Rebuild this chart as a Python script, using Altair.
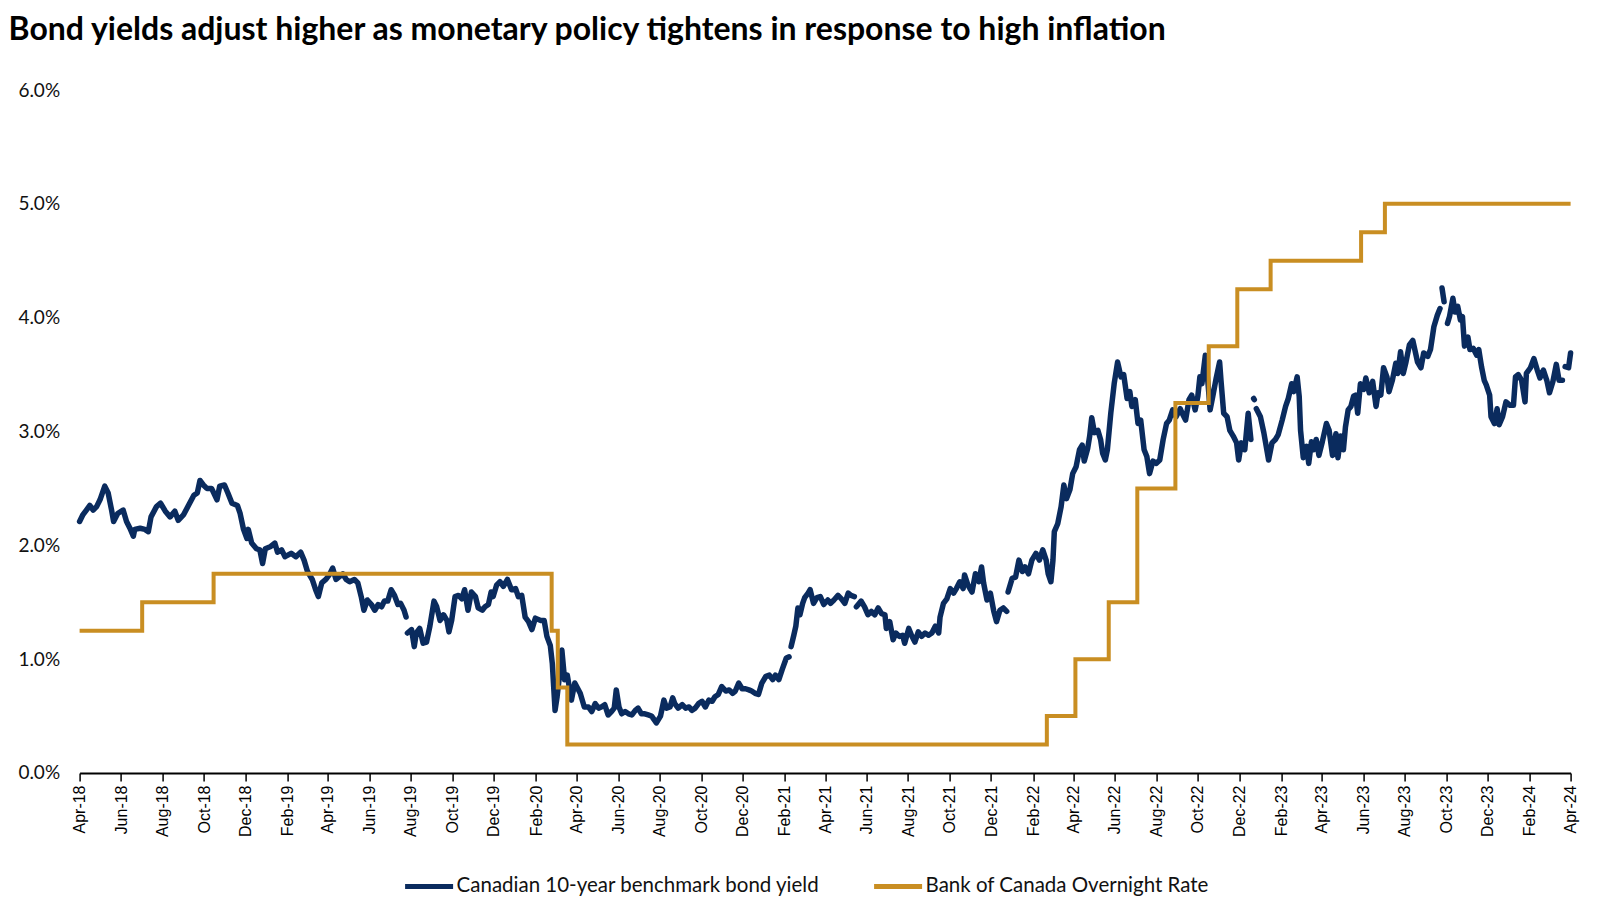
import altair as alt
import pandas as pd

TITLE = "Bond yields adjust higher as monetary policy tightens in response to high inflation"
SERIES = ["Canadian 10-year benchmark bond yield", "Bank of Canada Overnight Rate"]
COLORS = ["#0A2B5E", "#C98E22"]
GAP = None

# ---- Canadian 10-year benchmark bond yield (%); None = break in the line
d2018 = ["04-10", "04-15", "04-20", "04-25", "04-30", "05-05", "05-10", "05-17", "05-22", "05-27", "05-30",
         "06-05", "06-13", "06-18", "06-23", "06-28", "06-30", "07-08", "07-15", "07-20", "07-24",
         "08-01", "08-07", "08-14", "08-21", "08-28", "09-02", "09-10", "09-17", "09-25", "09-30",
         "10-04", "10-09", "10-14", "10-21", "10-29", "11-02", "11-09", "11-14", "11-20", "11-28",
         "12-02", "12-07", "12-12", "12-14", "12-19", "12-26", "12-31"]
v2018 = [2.21, 2.27, 2.31, 2.35, 2.31, 2.34, 2.40, 2.52, 2.46, 2.31, 2.21,
         2.28, 2.31, 2.21, 2.15, 2.08, 2.14, 2.15, 2.14, 2.12, 2.25,
         2.34, 2.37, 2.30, 2.25, 2.30, 2.22, 2.27, 2.35, 2.44, 2.46,
         2.57, 2.53, 2.50, 2.50, 2.40, 2.52, 2.53, 2.46, 2.37, 2.35,
         2.28, 2.14, 2.06, 2.14, 2.02, 1.97, 1.96]

d2019 = ["01-04", "01-08", "01-16", "01-22", "01-26", "02-01", "02-06", "02-15", "02-22",
         "03-01", "03-06", "03-11", "03-14", "03-18", "03-23", "03-27",
         "04-01", "04-07", "04-13", "04-17", "04-22", "04-27",
         "05-02", "05-07", "05-12", "05-19", "05-24", "05-29",
         "06-02", "06-07", "06-13", "06-18", "06-23", "06-28",
         "07-02", "07-07", "07-12", "07-17", "07-22", "07-26", "07-31",
         "08-03", GAP, "08-05", "08-11", "08-15", "08-18", "08-23", "08-28",
         "09-02", "09-07", "09-13", "09-17", "09-22", "09-27",
         "10-02", "10-05", "10-09", "10-14", "10-19", "10-24", "10-28",
         "11-02", "11-07", "11-13", "11-17", "11-23", "11-27",
         "12-02", "12-06", "12-09", "12-14", "12-19", "12-24", "12-30"]
v2019 = [1.84, 1.97, 1.99, 2.02, 1.94, 1.96, 1.90, 1.93, 1.90,
         1.94, 1.87, 1.77, 1.74, 1.70, 1.61, 1.55,
         1.67, 1.70, 1.75, 1.80, 1.70, 1.725,
         1.75, 1.70, 1.68, 1.70, 1.67, 1.55,
         1.43, 1.52, 1.48, 1.43, 1.48, 1.46,
         1.51, 1.51, 1.61, 1.56, 1.48, 1.49, 1.43,
         1.37, GAP, 1.23, 1.26, 1.11, 1.23, 1.27, 1.14,
         1.15, 1.29, 1.51, 1.46, 1.34, 1.39,
         1.34, 1.24, 1.34, 1.55, 1.56, 1.53, 1.61,
         1.43, 1.59, 1.55, 1.45, 1.43, 1.46,
         1.48, 1.59, 1.55, 1.65, 1.68, 1.64, 1.70]

d2020 = ["01-05", "01-11", "01-15", "01-20", "01-25", "01-30",
         "02-04", "02-09", "02-17", "02-22", "02-26",
         "03-02", "03-05", "03-09", "03-12", "03-16", "03-19", "03-23", "03-27",
         "04-02", "04-07", "04-15", "04-21", "04-27",
         "05-02", "05-07", "05-12", "05-16", "05-21", "05-26", "05-31",
         "06-04", "06-07", "06-11", "06-15", "06-20", "06-25", "06-30",
         "07-05", "07-09", "07-14", "07-19", "07-24", "07-29",
         "08-05", "08-11", "08-16", "08-20", "08-25", "08-29",
         "09-01", "09-06", "09-12", "09-17", "09-22", "09-26",
         "10-01", "10-06", "10-11", "10-16", "10-21", "10-26", "10-30",
         "11-04", "11-09", "11-15", "11-20", "11-25", "11-29",
         "12-04", "12-09", "12-14", "12-19", "12-23", "12-28"]
v2020 = [1.61, 1.62, 1.55, 1.56, 1.37, 1.33,
         1.26, 1.36, 1.34, 1.34, 1.20,
         1.12, 0.96, 0.55, 0.67, 0.88, 1.08, 0.82, 0.86,
         0.64, 0.79, 0.70, 0.58, 0.58,
         0.54, 0.61, 0.57, 0.58, 0.60, 0.51, 0.54,
         0.57, 0.73, 0.58, 0.52, 0.54, 0.52, 0.51,
         0.55, 0.57, 0.52, 0.52, 0.51, 0.50,
         0.44, 0.50, 0.64, 0.57, 0.58, 0.66,
         0.61, 0.57, 0.60, 0.57, 0.58, 0.55,
         0.57, 0.61, 0.63, 0.58, 0.64, 0.63, 0.67,
         0.69, 0.76, 0.72, 0.73, 0.70, 0.72,
         0.79, 0.74, 0.74, 0.73, 0.72, 0.70]

d2021 = ["01-02", "01-07", "01-13", "01-18", "01-23", "01-27",
         "02-01", "02-06", "02-12", "02-16", GAP, "02-19", "02-23", "02-26",
         "03-01", "03-04", "03-08", "03-11", "03-16", "03-19", "03-24", "03-29",
         "04-03", "04-08", "04-14", "04-18", "04-23", "04-29",
         "05-04", "05-09", "05-14", "05-18", "05-23", GAP, "05-26",
         "06-02", "06-07", "06-12", "06-17", "06-22", "06-27",
         "07-02", "07-07", "07-09", "07-14", "07-19", "07-23", "07-28",
         "08-02", "08-05", "08-11", "08-15", "08-20", "08-25", "08-30",
         "09-04", "09-09", "09-14", "09-19", "09-24", "09-26",
         "10-01", "10-06", "10-11", "10-16", "10-20", "10-25", "10-30",
         "11-01", "11-06", "11-12", "11-17", "11-22", "11-26", "11-29",
         "12-04", "12-09", "12-14", "12-18", "12-23", "12-28"]
v2021 = [0.69, 0.79, 0.85, 0.86, 0.82, 0.86,
         0.82, 0.91, 1.01, 1.02, GAP, 1.11, 1.21, 1.29,
         1.45, 1.39, 1.49, 1.54, 1.58, 1.61, 1.49, 1.54,
         1.55, 1.48, 1.52, 1.49, 1.52, 1.56,
         1.53, 1.49, 1.58, 1.56, 1.55, GAP, 1.46,
         1.51, 1.46, 1.39, 1.42, 1.39, 1.45,
         1.40, 1.39, 1.27, 1.33, 1.17, 1.23, 1.20,
         1.21, 1.14, 1.27, 1.21, 1.15, 1.24, 1.20,
         1.23, 1.21, 1.23, 1.29, 1.23, 1.37,
         1.49, 1.53, 1.62, 1.58, 1.62, 1.68, 1.62,
         1.74, 1.65, 1.59, 1.75, 1.68, 1.81, 1.67,
         1.52, 1.58, 1.42, 1.33, 1.43, 1.45]

d2022 = ["01-02", GAP, "01-04", "01-10", "01-15", "01-20", "01-25", "01-29",
         "02-03", "02-08", "02-14", "02-19", "02-24",
         "03-01", "03-04", "03-08", "03-11", "03-13", "03-18", "03-23", "03-27", "03-31",
         "04-05", "04-09", "04-14", "04-19", "04-23", "04-26",
         "05-01", "05-04", "05-07", "05-11", "05-16", "05-20", "05-23", "05-27", "05-30",
         "06-04", "06-09", "06-14", "06-19", "06-23", "06-28",
         "07-02", "07-05", "07-10", "07-14", "07-18", "07-23", "07-27", "07-31",
         "08-05", "08-10", "08-15", "08-20", "08-25", "08-29",
         "09-03", "09-08", "09-14", "09-17", "09-22", "09-27",
         "10-01", "10-06", "10-10", "10-13", "10-16", "10-21", "10-25", "10-28",
         "11-01", "11-06", "11-11", "11-13", "11-17", "11-22", "11-26",
         "12-01", "12-06", "12-09", "12-13", "12-18", "12-23", "12-27", GAP, "12-31"]
v2022 = [1.42, GAP, 1.59, 1.71, 1.72, 1.87, 1.77, 1.81,
         1.75, 1.87, 1.93, 1.87, 1.96,
         1.87, 1.75, 1.68, 1.87, 2.12, 2.19, 2.34, 2.53, 2.41,
         2.49, 2.63, 2.69, 2.84, 2.88, 2.74,
         2.85, 2.96, 3.12, 2.99, 3.01, 2.93, 2.81, 2.75, 2.84,
         3.16, 3.42, 3.61, 3.48, 3.50, 3.29,
         3.35, 3.22, 3.28, 3.07, 3.10, 2.84, 2.78, 2.63,
         2.74, 2.72, 2.75, 2.93, 3.07, 3.10,
         3.19, 3.13, 3.20, 3.16, 3.10, 3.28,
         3.32, 3.19, 3.31, 3.48, 3.42, 3.67, 3.42, 3.19,
         3.31, 3.47, 3.61, 3.45, 3.16, 3.13, 3.01,
         2.96, 2.90, 2.75, 2.90, 2.84, 3.16, 2.93, GAP, 3.29]

d2023 = ["01-01", GAP, "01-04", "01-10", "01-15", "01-20", "01-22", "01-27",
         "02-01", "02-05", "02-11", "02-16", "02-20", "02-25", "02-28",
         "03-05", "03-08", "03-10", "03-14", "03-19", "03-22", "03-26", "03-29",
         "04-02", "04-06", "04-11", "04-17", "04-21", "04-26",
         "05-01", "05-04", "05-08", "05-12", "05-15", "05-19", "05-23", "05-27", "05-30",
         "06-02", "06-06", "06-11", "06-14", "06-19", "06-24", "06-29",
         "07-02", "07-06", "07-10", "07-15", "07-18", "07-23", "07-28", "07-31",
         "08-04", "08-08", "08-12", "08-17", "08-22", "08-25", "08-29",
         "09-03", "09-07", "09-13", "09-17", "09-22", "09-27",
         "10-01", GAP, "10-04", "10-07", GAP, "10-12", "10-15", "10-20", "10-23", "10-27", "10-31",
         "11-03", "11-06", "11-11", "11-14", "11-19", "11-24", "11-27",
         "12-01", "12-05", "12-08", "12-13", "12-15", "12-20", "12-24", "12-27"]
v2023 = [3.28, GAP, 3.20, 3.13, 2.99, 2.82, 2.75, 2.90,
         2.93, 2.97, 3.10, 3.22, 3.29, 3.42, 3.35,
         3.48, 3.31, 3.01, 2.77, 2.87, 2.72, 2.91, 2.84,
         2.93, 2.79, 2.91, 3.07, 3.01, 2.79,
         2.98, 2.77, 2.96, 2.84, 3.04, 3.19, 3.22, 3.31, 3.32,
         3.16, 3.42, 3.37, 3.47, 3.34, 3.44, 3.22,
         3.34, 3.32, 3.56, 3.48, 3.35, 3.45, 3.60, 3.51,
         3.70, 3.51, 3.61, 3.76, 3.80, 3.72, 3.61,
         3.56, 3.69, 3.66, 3.72, 3.92, 4.02,
         4.08, GAP, 4.26, 4.14, GAP, 3.95, 4.01, 4.17, 4.05, 4.10, 3.98,
         4.01, 3.75, 3.83, 3.72, 3.73, 3.67, 3.72,
         3.57, 3.45, 3.41, 3.32, 3.13, 3.07, 3.20, 3.06]

d2024 = ["01-01", "01-06", "01-12", "01-17", "01-20", "01-24", "01-29",
         "02-03", "02-05", "02-11", "02-16", "02-21", "02-25",
         "03-01", "03-06", "03-10", "03-15", "03-20", "03-24", "03-29", GAP,
         "04-02", "04-07", "04-10"]
v2024 = [3.13, 3.26, 3.23, 3.23, 3.48, 3.50, 3.45,
         3.26, 3.51, 3.56, 3.64, 3.54, 3.47,
         3.54, 3.45, 3.34, 3.44, 3.59, 3.45, 3.45, GAP,
         3.57, 3.56, 3.69]

# ---- Bank of Canada overnight rate (%), value in force from each date
rate_dates = ["2018-04-10", "2018-07-11", "2018-10-24", "2020-03-04", "2020-03-13", "2020-03-27",
              "2022-03-02", "2022-04-13", "2022-06-01", "2022-07-13", "2022-09-07", "2022-10-26",
              "2022-12-07", "2023-01-25", "2023-06-07", "2023-07-12", "2024-04-10"]
rate_values = [1.25, 1.50, 1.75, 1.25, 0.75, 0.25,
               0.50, 1.00, 1.50, 2.50, 3.25, 3.75,
               4.25, 4.50, 4.75, 5.00, 5.00]

# ---- axis ticks
tick_dates = ["2018-04-10", "2018-06-10", "2018-08-10", "2018-10-10", "2018-12-10",
              "2019-02-10", "2019-04-10", "2019-06-10", "2019-08-10", "2019-10-10", "2019-12-10",
              "2020-02-10", "2020-04-10", "2020-06-10", "2020-08-10", "2020-10-10", "2020-12-10",
              "2021-02-10", "2021-04-10", "2021-06-10", "2021-08-10", "2021-10-10", "2021-12-10",
              "2022-02-10", "2022-04-10", "2022-06-10", "2022-08-10", "2022-10-10", "2022-12-10",
              "2023-02-10", "2023-04-10", "2023-06-10", "2023-08-10", "2023-10-10", "2023-12-10",
              "2024-02-10", "2024-04-10"]
y_ticks = [0, 1, 2, 3, 4, 5, 6]

# ---- build tables
rows = []
seg = 0
for year, dts, vals in [(2018, d2018, v2018), (2019, d2019, v2019), (2020, d2020, v2020),
                        (2021, d2021, v2021), (2022, d2022, v2022), (2023, d2023, v2023),
                        (2024, d2024, v2024)]:
    assert len(dts) == len(vals), (year, len(dts), len(vals))
    for d, v in zip(dts, vals):
        if d is None or v is None:
            seg += 1
            continue
        rows.append({"date": f"{year}-{d}", "value": v, "seg": seg, "series": SERIES[0]})
bond_df = pd.DataFrame(rows)
rate_df = pd.DataFrame({"date": rate_dates, "value": rate_values, "series": SERIES[1]})


def dt(s):
    y, m, d = (int(p) for p in s.split("-"))
    return alt.DateTime(year=y, month=m, date=d)


color = alt.Color(
    "series:N",
    scale=alt.Scale(domain=SERIES, range=COLORS),
    legend=alt.Legend(
        title=None, orient="none", legendX=323, legendY=770, direction="horizontal",
        symbolType="stroke", symbolSize=2304, symbolStrokeWidth=5, padding=0,
        labelFont="Lato", labelFontSize=20.5, labelColor="#111", labelOffset=1,
        columnPadding=43, labelLimit=600,
    ),
)

x = alt.X(
    "date:T",
    scale=alt.Scale(domain=[dt(tick_dates[0]), dt(tick_dates[-1])], nice=False),
    axis=alt.Axis(
        values=[dt(t) for t in tick_dates], format="%b-%y", labelAngle=270,
        title=None, grid=False, domainColor="#000", domainWidth=2,
        tickColor="#000", tickWidth=1.5, tickSize=8, labelPadding=4,
        labelFont="Liberation Sans", labelFontSize=16, labelColor="#000",
        labelOverlap=False, labelBound=False, labelFlush=False,
    ),
)
y = alt.Y(
    "value:Q",
    scale=alt.Scale(domain=[0, 6], nice=False),
    axis=alt.Axis(
        values=y_ticks, labelExpr="format(datum.value, '.1f') + '%'",
        title=None, grid=False, domain=False, ticks=False, labelPadding=20,
        labelFont="Lato", labelFontSize=19, labelColor="#111",
    ),
)

bond = alt.Chart(bond_df).mark_line(strokeWidth=5.5, strokeJoin="round", strokeCap="round").encode(
    x=x, y=y, color=color, detail="seg:N"
)
rate = alt.Chart(rate_df).mark_line(strokeWidth=4, interpolate="step-after").encode(
    x=x, y=y, color=color
)

chart = alt.layer(bond, rate).properties(
    width=1491,
    height=683,
    background="white",
    autosize=alt.AutoSizeParams(type="none"),
    padding={"left": 71.6, "top": 82, "right": 20, "bottom": 140},
    title=alt.TitleParams(
        TITLE, anchor="start", frame="group", dx=-71, offset=9, baseline="alphabetic",
        font="Lato", fontSize=32, fontWeight="bold", color="#000",
    ),
).configure_view(stroke=None)

chart.save("out.html", embed_options={"renderer": "svg", "actions": False})
